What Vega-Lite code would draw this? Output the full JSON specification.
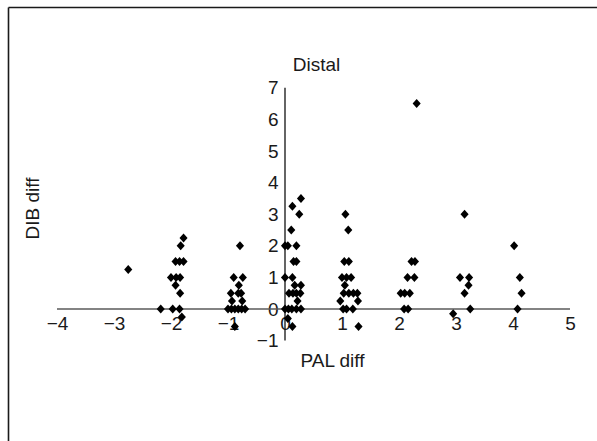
{
  "$schema": "https://vega.github.io/schema/vega-lite/v6.json",
  "autosize": {"type": "none"},
  "padding": {"left": 8, "top": 7, "right": 0, "bottom": 0},
  "width": 589,
  "height": 434,
  "background": "white",
  "config": {
    "view": {"stroke": null},
    "font": "Liberation Sans",
    "axis": {"grid": false, "labelFlush": false, "labelOverlap": false}
  },
  "datasets": {
    "points": [
      {"pal": -2.75, "dib": 1.25},
      {"pal": -2.18, "dib": 0}, {"pal": -1.97, "dib": 0}, {"pal": -1.85, "dib": 0},
      {"pal": -1.81, "dib": -0.25}, {"pal": -1.84, "dib": 0.5}, {"pal": -1.92, "dib": 0.75},
      {"pal": -2.0, "dib": 1}, {"pal": -1.91, "dib": 1}, {"pal": -1.84, "dib": 1},
      {"pal": -1.92, "dib": 1.5}, {"pal": -1.85, "dib": 1.5}, {"pal": -1.78, "dib": 1.5},
      {"pal": -1.83, "dib": 2}, {"pal": -1.78, "dib": 2.25},
      {"pal": -0.79, "dib": 2}, {"pal": -0.9, "dib": 1}, {"pal": -0.74, "dib": 1},
      {"pal": -0.81, "dib": 0.75}, {"pal": -0.95, "dib": 0.5}, {"pal": -0.82, "dib": 0.5},
      {"pal": -0.77, "dib": 0.5}, {"pal": -0.93, "dib": 0.25}, {"pal": -0.75, "dib": 0.25},
      {"pal": -1.0, "dib": 0}, {"pal": -0.94, "dib": 0}, {"pal": -0.88, "dib": 0},
      {"pal": -0.82, "dib": 0}, {"pal": -0.76, "dib": 0}, {"pal": -0.7, "dib": 0},
      {"pal": -0.88, "dib": -0.55},
      {"pal": 0.28, "dib": 3.5}, {"pal": 0.13, "dib": 3.25}, {"pal": 0.25, "dib": 3},
      {"pal": 0.11, "dib": 2.5}, {"pal": 0.0, "dib": 2}, {"pal": 0.05, "dib": 2},
      {"pal": 0.2, "dib": 2}, {"pal": 0.15, "dib": 1.5}, {"pal": 0.2, "dib": 1.5},
      {"pal": 0.0, "dib": 1}, {"pal": 0.13, "dib": 1}, {"pal": 0.17, "dib": 0.75},
      {"pal": 0.28, "dib": 0.75}, {"pal": 0.07, "dib": 0.5}, {"pal": 0.14, "dib": 0.5},
      {"pal": 0.2, "dib": 0.5}, {"pal": 0.27, "dib": 0.5}, {"pal": 0.22, "dib": 0.25},
      {"pal": 0.0, "dib": 0}, {"pal": 0.06, "dib": 0}, {"pal": 0.12, "dib": 0},
      {"pal": 0.2, "dib": 0}, {"pal": 0.28, "dib": 0}, {"pal": 0.05, "dib": -0.3},
      {"pal": 0.13, "dib": -0.55},
      {"pal": 1.06, "dib": 3}, {"pal": 1.11, "dib": 2.5}, {"pal": 1.04, "dib": 1.5},
      {"pal": 1.12, "dib": 1.5}, {"pal": 1.0, "dib": 1}, {"pal": 1.08, "dib": 1},
      {"pal": 1.16, "dib": 1}, {"pal": 1.05, "dib": 0.75}, {"pal": 1.03, "dib": 0.5},
      {"pal": 1.12, "dib": 0.5}, {"pal": 1.2, "dib": 0.5}, {"pal": 1.27, "dib": 0.5},
      {"pal": 0.97, "dib": 0.25}, {"pal": 1.28, "dib": 0.25}, {"pal": 1.02, "dib": 0},
      {"pal": 1.08, "dib": 0}, {"pal": 1.19, "dib": 0}, {"pal": 1.29, "dib": -0.55},
      {"pal": 2.31, "dib": 6.5}, {"pal": 2.22, "dib": 1.5}, {"pal": 2.28, "dib": 1.5},
      {"pal": 2.15, "dib": 1}, {"pal": 2.27, "dib": 1}, {"pal": 2.03, "dib": 0.5},
      {"pal": 2.1, "dib": 0.5}, {"pal": 2.19, "dib": 0.5}, {"pal": 2.09, "dib": 0},
      {"pal": 2.16, "dib": 0},
      {"pal": 3.15, "dib": 3}, {"pal": 3.07, "dib": 1}, {"pal": 3.23, "dib": 1},
      {"pal": 3.22, "dib": 0.75}, {"pal": 3.15, "dib": 0.5}, {"pal": 3.25, "dib": 0},
      {"pal": 2.95, "dib": -0.15},
      {"pal": 4.02, "dib": 2}, {"pal": 4.12, "dib": 1}, {"pal": 4.15, "dib": 0.5},
      {"pal": 4.08, "dib": 0}
    ]
  },
  "layer": [
    {
      "data": {"values": [{"x": -4, "x2": 5, "y": 0}]},
      "mark": {"type": "rule", "color": "#5a5a5a", "strokeWidth": 1.3},
      "encoding": {
        "x": {
          "field": "x", "type": "quantitative",
          "scale": {"domain": [-4.8596, 5.4737], "nice": false, "zero": false},
          "axis": {"orient": "top", "domain": true, "domainColor": "#1a1a1a", "domainWidth": 1.6, "ticks": false, "labels": false, "title": null}
        },
        "x2": {"field": "x2"},
        "y": {
          "field": "y", "type": "quantitative",
          "scale": {"domain": [-4.177, 9.557], "nice": false, "zero": false},
          "axis": {
            "orient": "left", "domain": true, "domainColor": "#1a1a1a", "domainWidth": 1.6,
            "ticks": false, "labels": false,
            "title": "DIB diff", "titleX": 24, "titleY": 201, "titleAngle": 270,
            "titleAlign": "center", "titleBaseline": "middle",
            "titleFontSize": 19, "titleFontWeight": "normal", "titleColor": "#1a1a1a"
          }
        }
      }
    },
    {
      "data": {"values": [{"x": 0, "y": -1, "y2": 7}]},
      "mark": {"type": "rule", "color": "#111111", "strokeWidth": 1.3},
      "encoding": {
        "x": {"field": "x", "type": "quantitative", "axis": null},
        "y": {"field": "y", "type": "quantitative", "axis": null},
        "y2": {"field": "y2"}
      }
    },
    {
      "data": {"name": "points"},
      "mark": {
        "type": "point",
        "shape": "M-0.9,0L0,-1L0.9,0L0,1Z",
        "filled": true,
        "fill": "#000000",
        "strokeWidth": 0,
        "size": 81,
        "opacity": 1
      },
      "encoding": {
        "x": {
          "field": "pal", "type": "quantitative",
          "axis": {
            "orient": "bottom", "offset": -132, "domain": false, "ticks": false,
            "values": [-4, -3, -2, -1, 0, 1, 2, 3, 4, 5],
            "labelFontSize": 19, "labelPadding": 5, "labelColor": "#1a1a1a",
            "title": "PAL diff", "titleX": 324, "titleY": 51,
            "titleAlign": "center", "titleBaseline": "middle", "titleAngle": 0,
            "titleFontSize": 19, "titleFontWeight": "normal", "titleColor": "#1a1a1a"
          }
        },
        "y": {
          "field": "dib", "type": "quantitative",
          "axis": {
            "orient": "left", "offset": -277, "domain": false, "ticks": false,
            "values": [-1, 0, 1, 2, 3, 4, 5, 6, 7],
            "labelFontSize": 19, "labelPadding": 7, "labelColor": "#1a1a1a",
            "title": "Distal", "titleX": 31, "titleY": 57, "titleAngle": 0,
            "titleAlign": "center", "titleBaseline": "middle",
            "titleFontSize": 19, "titleFontWeight": "normal", "titleColor": "#1a1a1a"
          }
        }
      }
    }
  ],
  "resolve": {"axis": {"x": "independent", "y": "independent"}}
}
